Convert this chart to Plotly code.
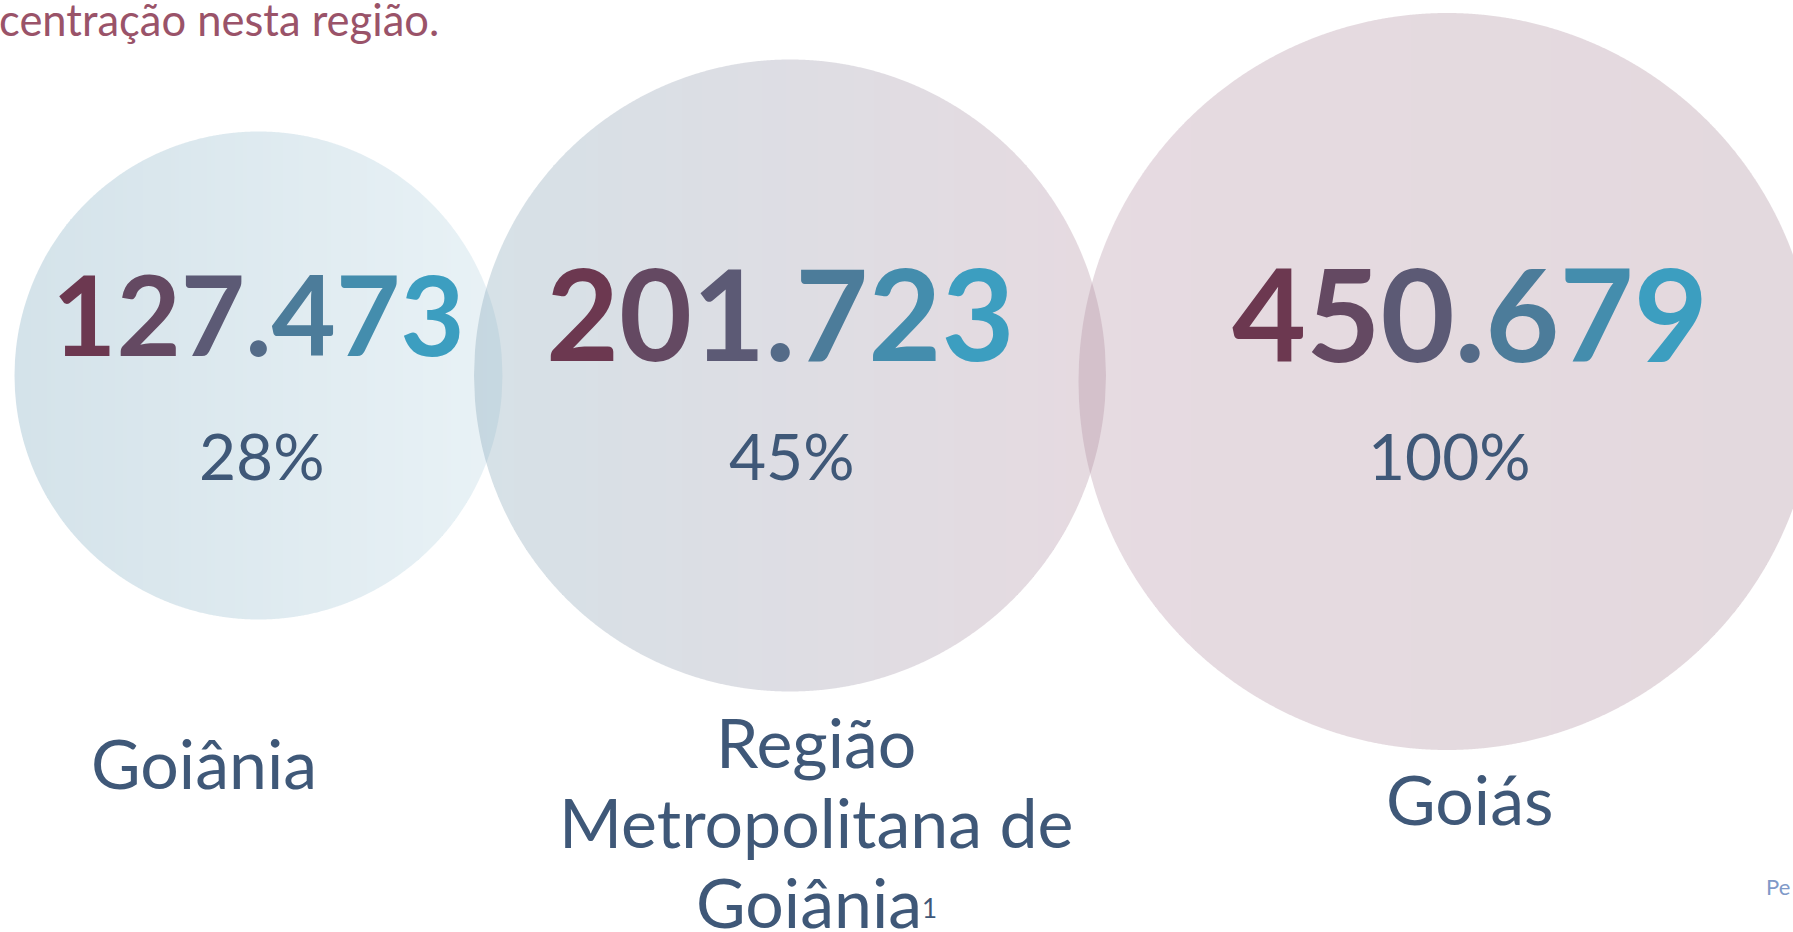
import math
import numpy as np
import plotly.graph_objects as go

# ---------------- data ----------------
regions = ["Goiânia", "Região Metropolitana de Goiânia¹", "Goiás"]
label_lines = [
    ["Goiânia"],
    ["Região", "Metropolitana de",
     "Goiânia<span style='font-size:26px;baseline-shift:10px'>1</span>"],
    ["Goiás"],
]
population = [127473, 201723, 450679]
share_pct = [28, 45, 100]
header_text = "centração nesta região."
footer_text = "Pe"

# ---------------- layout constants (pixels, 1 unit = 1 px) ----------------
W, H = 1793, 932
FONT = "Lato"
ALPHA = 0.3
circles = [
    dict(cx=258.5, cy=375.5, r=244.0, cl=(112, 160, 184), cr=(182, 212, 225)),
    dict(cx=790.0, cy=375.5, r=316.0, cl=(118, 155, 175), cr=(172, 132, 152)),
    dict(cx=1447.0, cy=381.5, r=368.5, cl=(172, 135, 155), cr=(162, 128, 145)),
]
num_x = [258, 780, 1470]
num_y = [313, 312, 312]
num_size = [111, 126, 128]
pct_x = [262, 792, 1449]
pct_y = 455
pct_size = 64
label_x = [204, 816, 1469]
label_first_cap_center = [762, 741, 798]
label_line_gap = 80
label_size = 68

NUM_LEFT = (108, 56, 80)
NUM_RIGHT = (60, 158, 192)
PCT_COLOR = "#3F5878"
LABEL_COLOR = "#3F5878"
HEADER_COLOR = "rgb(154,83,105)"
FOOTER_COLOR = "rgb(127,153,200)"


def lerp(a, b, t):
    return tuple(a[i] + (b[i] - a[i]) * t for i in range(3))


def fmt_br(v):
    return f"{v:,}".replace(",", ".")


def gradient_text(s):
    n = len(s)
    parts = []
    for i, ch in enumerate(s):
        t = i / (n - 1) if n > 1 else 0
        c = lerp(NUM_LEFT, NUM_RIGHT, t)
        parts.append(
            f"<span style='color:rgb({int(c[0])},{int(c[1])},{int(c[2])})'>{ch}</span>"
        )
    return "".join(parts)


fig = go.Figure()
fig.add_trace(go.Scatter(x=[0, W], y=[0, H], mode="markers",
                         marker=dict(opacity=0), hoverinfo="skip", showlegend=False))

shapes = []
STEP = 4
for c in circles:
    cx, cy, r = c["cx"], c["cy"], c["r"]
    xl, xr = cx - r, cx + r
    bounds = [xl] + list(range(math.ceil(xl), int(min(xr, W)) + 1, STEP))
    if bounds[-1] < min(xr, W):
        bounds.append(min(xr, W))
    for i in range(len(bounds) - 1):
        x0, x1 = bounds[i], bounds[i + 1]
        if x1 - x0 <= 0:
            continue
        xs = list(np.linspace(x0, x1, max(2, int(round(x1 - x0)) + 1)))
        top = []
        bot = []
        for x in xs:
            d = max(r * r - (x - cx) ** 2, 0.0)
            h = math.sqrt(d)
            top.append((x, cy - h))
            bot.append((x, cy + h))
        pts = top + bot[::-1]
        path = "M " + " L ".join(f"{p[0]:.3f},{p[1]:.3f}" for p in pts) + " Z"
        t = ((x0 + x1) / 2 - xl) / (2 * r)
        col = lerp(c["cl"], c["cr"], t)
        shapes.append(dict(
            type="path", path=path, xref="x", yref="y", layer="below",
            fillcolor=f"rgba({col[0]:.0f},{col[1]:.0f},{col[2]:.0f},{ALPHA})",
            line=dict(width=0),
        ))

annotations = []
for i in range(len(regions)):
    annotations.append(dict(
        x=num_x[i], y=num_y[i], xref="x", yref="y", showarrow=False,
        text=gradient_text(fmt_br(population[i])),
        font=dict(family=FONT, size=num_size[i], weight="bold"),
        xanchor="center", yanchor="middle",
    ))
    annotations.append(dict(
        x=pct_x[i], y=pct_y, xref="x", yref="y", showarrow=False,
        text=f"{share_pct[i]}%",
        font=dict(family=FONT, size=pct_size, color=PCT_COLOR),
        xanchor="center", yanchor="middle",
    ))
    for j, line in enumerate(label_lines[i]):
        annotations.append(dict(
            x=label_x[i], y=label_first_cap_center[i] + j * label_line_gap,
            xref="x", yref="y", showarrow=False, text=line,
            font=dict(family=FONT, size=label_size, color=LABEL_COLOR),
            xanchor="center", yanchor="middle",
        ))

annotations.append(dict(
    x=0, y=0.98, xref="paper", yref="paper", showarrow=False, text=header_text,
    font=dict(family=FONT, size=43.5, color=HEADER_COLOR),
    xanchor="left", yanchor="middle", xshift=-3, yshift=0,
))
annotations.append(dict(
    x=1764, y=886, xref="x", yref="y", showarrow=False, text=footer_text,
    font=dict(family=FONT, size=22, color=FOOTER_COLOR),
    xanchor="left", yanchor="middle",
))

fig.update_layout(
    width=W, height=H,
    margin=dict(l=0, r=0, t=0, b=0, pad=0),
    paper_bgcolor="white", plot_bgcolor="white",
    xaxis=dict(range=[0, W], visible=False, fixedrange=True),
    yaxis=dict(range=[H, 0], visible=False, fixedrange=True),
    shapes=shapes, annotations=annotations,
    showlegend=False,
)

fig.write_html(
    "out.html",
    config={"displayModeBar": False, "staticPlot": True},
    post_script="document.body.style.margin='0';document.body.style.overflow='hidden';",
)
